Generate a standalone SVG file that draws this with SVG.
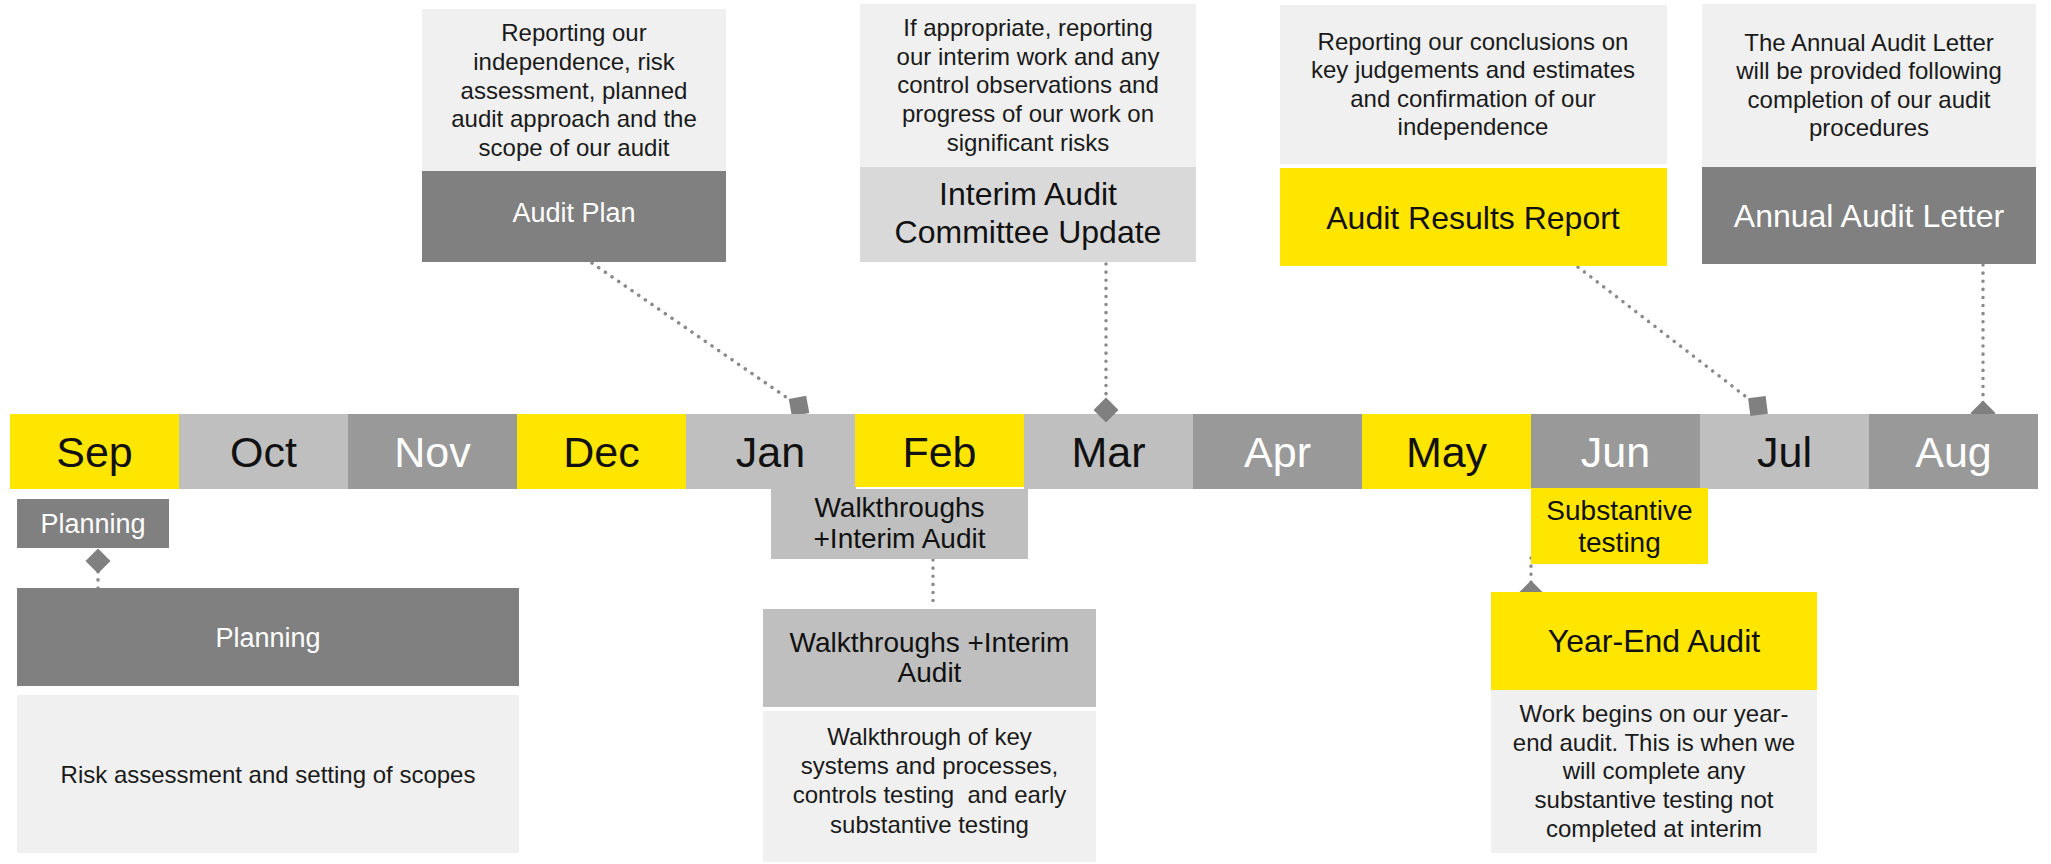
<svg xmlns="http://www.w3.org/2000/svg" width="2051" height="864" viewBox="0 0 2051 864">
<style>
text{font-family:"Liberation Sans",Arial,sans-serif;text-anchor:middle}
.mo{font-size:43px}
.d{font-size:24px;fill:#1a1a1a}
.t{font-size:32px}
.s{font-size:28px}
.w{fill:#ffffff}
.k{fill:#111111}
.y{fill:#FFE600}
.lg{fill:#BFBFBF}
.dg{fill:#999999}
.dk{fill:#808080}
.pale{fill:#F0F0F0}
.mid{fill:#D9D9D9}
.con{fill:none;stroke:#8a8a8a;stroke-width:3.5;stroke-linecap:round;stroke-dasharray:0.1 8}
</style>
<defs>
<marker id="dia" viewBox="-13 -13 26 26" markerUnits="userSpaceOnUse" markerWidth="26" markerHeight="26" refX="0" refY="0" orient="auto">
<path d="M-12.5,0 L0,-12.5 L12.5,0 L0,12.5 Z" fill="#808080"/>
</marker>
<clipPath id="cc">
<rect x="0" y="0" width="2051" height="414"/>
<rect x="0" y="489" width="2051" height="375"/>
<rect x="1090" y="400" width="34" height="30"/>
<rect x="1738" y="400" width="40" height="20"/>
</clipPath>
</defs>

<g id="months">
<g id="m-sep"><rect class="y" x="10" y="414" width="170" height="75"/><text class="mo k" x="94.5" y="467">Sep</text></g>
<g id="m-oct"><rect class="lg" x="179" y="414" width="170" height="75"/><text class="mo k" x="263.5" y="467">Oct</text></g>
<g id="m-nov"><rect class="dg" x="348" y="414" width="170" height="75"/><text class="mo w" x="432.5" y="467">Nov</text></g>
<g id="m-dec"><rect class="y" x="517" y="414" width="170" height="75"/><text class="mo k" x="601.5" y="467">Dec</text></g>
<g id="m-jan"><rect class="lg" x="686" y="414" width="170" height="75"/><text class="mo k" x="770.5" y="467">Jan</text></g>
<g id="m-feb"><rect class="y" x="855" y="414" width="170" height="73"/><text class="mo k" x="939.5" y="467">Feb</text></g>
<g id="m-mar"><rect class="lg" x="1024" y="414" width="170" height="75"/><text class="mo k" x="1108.5" y="467">Mar</text></g>
<g id="m-apr"><rect class="dg" x="1193" y="414" width="170" height="75"/><text class="mo w" x="1277.5" y="467">Apr</text></g>
<g id="m-may"><rect class="y" x="1362" y="414" width="170" height="75"/><text class="mo k" x="1446.5" y="467">May</text></g>
<g id="m-jun"><rect class="dg" x="1531" y="414" width="170" height="75"/><text class="mo w" x="1615.5" y="467">Jun</text></g>
<g id="m-jul"><rect class="lg" x="1700" y="414" width="170" height="75"/><text class="mo k" x="1784.5" y="467">Jul</text></g>
<g id="m-aug"><rect class="dg" x="1869" y="414" width="169" height="75"/><text class="mo w" x="1953.5" y="467">Aug</text></g>
</g>

<g id="connectors" clip-path="url(#cc)">
<path class="con" d="M592,263 L799,406" marker-end="url(#dia)"/>
<path class="con" d="M1106,264 L1106,410" marker-end="url(#dia)"/>
<path class="con" d="M1578,267 L1758,406" marker-end="url(#dia)"/>
<path class="con" d="M1983,265 L1983,413" marker-end="url(#dia)"/>
<path class="con" d="M98,588 L98,561" marker-end="url(#dia)"/>
<path class="con" d="M933,560 L933,608"/>
<path class="con" d="M1531,558 L1531,593" marker-end="url(#dia)"/>
</g>

<g id="audit-plan">
<rect class="pale" x="422" y="9" width="304" height="162"/>
<text class="d" x="574" y="41">Reporting our</text>
<text class="d" x="574" y="70">independence, risk</text>
<text class="d" x="574" y="99">assessment, planned</text>
<text class="d" x="574" y="127">audit approach and the</text>
<text class="d" x="574" y="156">scope of our audit</text>
<rect class="dk" x="422" y="171" width="304" height="91"/>
<text class="w" x="574" y="222" style="font-size:27px">Audit Plan</text>
</g>

<g id="interim-update">
<rect class="pale" x="860" y="4" width="336" height="163"/>
<text class="d" x="1028" y="36">If appropriate, reporting</text>
<text class="d" x="1028" y="65">our interim work and any</text>
<text class="d" x="1028" y="93">control observations and</text>
<text class="d" x="1028" y="122">progress of our work on</text>
<text class="d" x="1028" y="151">significant risks</text>
<rect class="mid" x="860" y="167" width="336" height="95"/>
<text class="t k" x="1028" y="205">Interim Audit</text>
<text class="t k" x="1028" y="243">Committee Update</text>
</g>

<g id="audit-results">
<rect class="pale" x="1280" y="5" width="387" height="159"/>
<text class="d" x="1473" y="50">Reporting our conclusions on</text>
<text class="d" x="1473" y="78">key judgements and estimates</text>
<text class="d" x="1473" y="107">and confirmation of our</text>
<text class="d" x="1473" y="135">independence</text>
<rect class="y" x="1280" y="168" width="387" height="98"/>
<text class="t k" x="1473" y="229">Audit Results Report</text>
</g>

<g id="annual-letter">
<rect class="pale" x="1702" y="4" width="334" height="163"/>
<text class="d" x="1869" y="51">The Annual Audit Letter</text>
<text class="d" x="1869" y="79">will be provided following</text>
<text class="d" x="1869" y="108">completion of our audit</text>
<text class="d" x="1869" y="136">procedures</text>
<rect class="dk" x="1702" y="167" width="334" height="97"/>
<text class="t w" x="1869" y="227">Annual Audit Letter</text>
</g>

<g id="planning-small">
<rect class="dk" x="17" y="499" width="152" height="49"/>
<text class="w" x="93" y="533" style="font-size:27px">Planning</text>
</g>

<g id="planning">
<rect class="dk" x="17" y="588" width="502" height="98"/>
<text class="w" x="268" y="647" style="font-size:27px">Planning</text>
<rect class="pale" x="17" y="695" width="502" height="158"/>
<text class="d" x="268" y="783">Risk assessment and setting of scopes</text>
</g>

<g id="walkthroughs-small">
<rect class="lg" x="771" y="489" width="257" height="70"/>
<text class="s k" x="899.5" y="517">Walkthroughs</text>
<text class="s k" x="899.5" y="548">+Interim Audit</text>
</g>

<g id="walkthroughs">
<rect class="lg" x="763" y="609" width="333" height="98"/>
<text class="s k" x="929.5" y="652">Walkthroughs +Interim</text>
<text class="s k" x="929.5" y="682">Audit</text>
<rect class="pale" x="763" y="711" width="333" height="151"/>
<text class="d" x="929.5" y="745">Walkthrough of key</text>
<text class="d" x="929.5" y="774">systems and processes,</text>
<text class="d" x="929.5" y="803" style="white-space:pre">controls testing  and early</text>
<text class="d" x="929.5" y="833">substantive testing</text>
</g>

<g id="substantive-testing">
<rect class="y" x="1531" y="488" width="177" height="76"/>
<text class="s k" x="1619.5" y="520">Substantive</text>
<text class="s k" x="1619.5" y="552">testing</text>
</g>

<g id="year-end">
<rect class="y" x="1491" y="592" width="326" height="98"/>
<text class="t k" x="1654" y="652">Year-End Audit</text>
<rect class="pale" x="1491" y="690" width="326" height="163"/>
<text class="d" x="1654" y="722">Work begins on our year-</text>
<text class="d" x="1654" y="751">end audit. This is when we</text>
<text class="d" x="1654" y="779">will complete any</text>
<text class="d" x="1654" y="808">substantive testing not</text>
<text class="d" x="1654" y="837">completed at interim</text>
</g>
</svg>
